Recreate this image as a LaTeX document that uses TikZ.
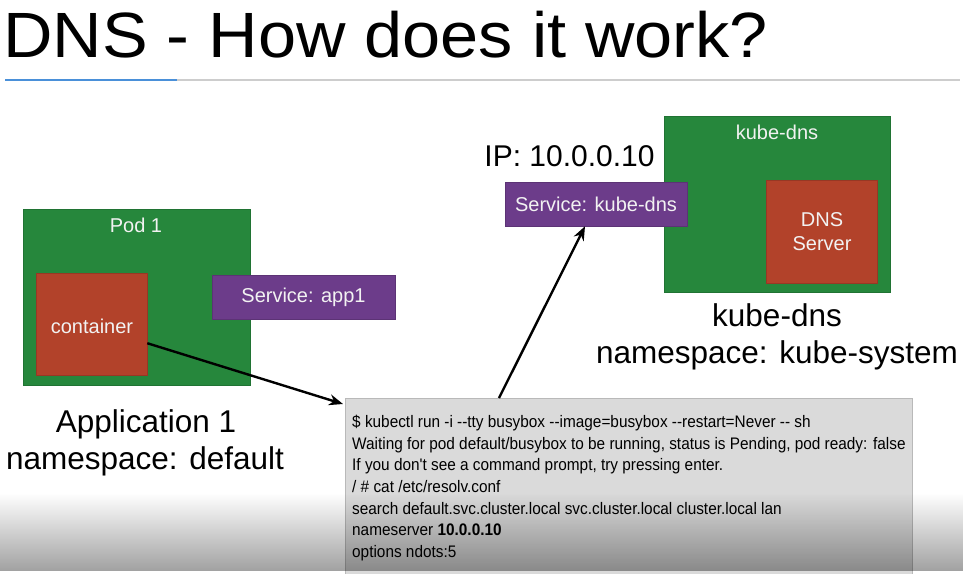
\documentclass[tikz,border=0pt]{standalone}
\usepackage{fontspec}
\setmainfont{Liberation Sans}
\newfontfamily\termfont[FakeStretch=0.92]{Liberation Sans}
\newfontfamily\headfont[FakeStretch=1.07]{Liberation Sans}
\usetikzlibrary{arrows.meta,fadings}

\definecolor{podgreen}{RGB}{38,135,60}
\definecolor{ctred}{RGB}{178,66,42}
\definecolor{svcpurple}{RGB}{108,60,138}
\definecolor{termgray}{RGB}{218,218,218}
\definecolor{termedge}{RGB}{185,185,185}
\definecolor{ruleblue}{RGB}{74,144,217}
\definecolor{rulegray}{RGB}{205,205,205}
\definecolor{boxtext}{RGB}{242,242,242}

% darkening band along the lower edge
\tikzfading[name=darkbottom, top color=transparent!100, bottom color=transparent!63]

\begin{document}
\begin{tikzpicture}[x=1pt,y=-1pt,
  greenbox/.style={fill=podgreen, draw=podgreen!85!black, line width=0.6pt, inner sep=0pt},
  redbox/.style={fill=ctred, draw=ctred!85!black, line width=0.6pt, inner sep=0pt},
  svcbox/.style={fill=svcpurple, draw=svcpurple!85!black, line width=0.6pt, inner sep=0pt},
  termbox/.style={fill=termgray, draw=termedge, line width=1pt, inner sep=0pt, anchor=north west},
  inlabel/.style={text=boxtext, font=\fontsize{20}{24}\selectfont, inner sep=0pt},
  caption/.style={font=\fontsize{31.5}{38}\selectfont, inner sep=0pt, anchor=base},
  termline/.style={font=\termfont\fontsize{16.7}{20}\selectfont, anchor=base west, inner sep=0pt},
  link/.style={-{Stealth[length=14pt,width=11pt]}, line width=2.4pt}]

\useasboundingbox (0,0) rectangle (963,573);
\fill[white] (0,0) rectangle (963,573);

% heading and rule
\node[anchor=base west, inner sep=0pt, font=\headfont\fontsize{64}{70}\selectfont]
  (title) at (3,57) {DNS - How does it work?};
\draw[rulegray, line width=1.2pt] (177,80) -- (960,80);
\draw[ruleblue, line width=1.6pt] (5,80) -- (177,80);

% application pod
\node[greenbox, minimum width=227pt, minimum height=176pt] (pod) at (136.5,297) {};
\node[inlabel] (podlbl) at (136,225) {Pod 1};
\node[redbox, minimum width=111pt, minimum height=102pt] (container) at (91.5,324) {};
\node[inlabel] (ctlbl) at (92,326) {container};
\node[svcbox, minimum width=183pt, minimum height=44pt] (svcapp) at (303.5,297) {};
\node[inlabel] (svcapplbl) at (303.5,297) {Service: app1};
\node[caption] (app) at (146,432) {Application 1};
\node[caption] (appns) at (145,469) {namespace: default};

% kube-dns pod
\node[greenbox, minimum width=226pt, minimum height=176pt] (kdpod) at (777,204) {};
\node[inlabel] (kdlbl) at (777,132) {kube-dns};
\node[redbox, minimum width=111pt, minimum height=103pt] (dnssrv) at (821.5,231.5) {};
\node[inlabel, align=center, font=\fontsize{20}{24}\selectfont] (dnslbl) at (822,232) {DNS\\Server};
\node[svcbox, minimum width=182pt, minimum height=44pt] (svckd) at (596,204) {};
\node[inlabel] (svckdlbl) at (596,204) {Service: kube-dns};
\node[anchor=base, inner sep=0pt, font=\fontsize{30}{36}\selectfont] (ip) at (569.5,166) {IP: 10.0.0.10};
\node[caption] (kd) at (777,326) {kube-dns};
\node[caption] (kdns) at (777,363) {namespace: kube-system};

% terminal session
\node[termbox, minimum width=567pt, minimum height=190pt] (term) at (345,398) {};
\node[termline] (t1) at (352,427) {\$ kubectl run -i -{}-tty busybox -{}-image=busybox -{}-restart=Never -{}- sh};
\node[termline] (t2) at (352,449) {Waiting for pod default/busybox to be running, status is Pending, pod ready: false};
\node[termline] (t3) at (352,470.5) {If you don't see a command prompt, try pressing enter.};
\node[termline] (t4) at (352,492) {/ \# cat /etc/resolv.conf};
\node[termline] (t5) at (352,514) {search default.svc.cluster.local svc.cluster.local cluster.local lan};
\node[termline] (t6) at (352,535.5) {nameserver \textbf{10.0.0.10}};
\node[termline] (t7) at (352,557) {options ndots:5};

% connectors
\draw[link] (container.-19) -- ([shift={(-2pt,-6pt)}]term.north west);
\draw[link] ([xshift=154pt]term.north west) -- ([xshift=-11pt]svckd.south);

% lower shading band
\fill[black, path fading=darkbottom] (0,493) rectangle (963,571);
\end{tikzpicture}
\end{document}
